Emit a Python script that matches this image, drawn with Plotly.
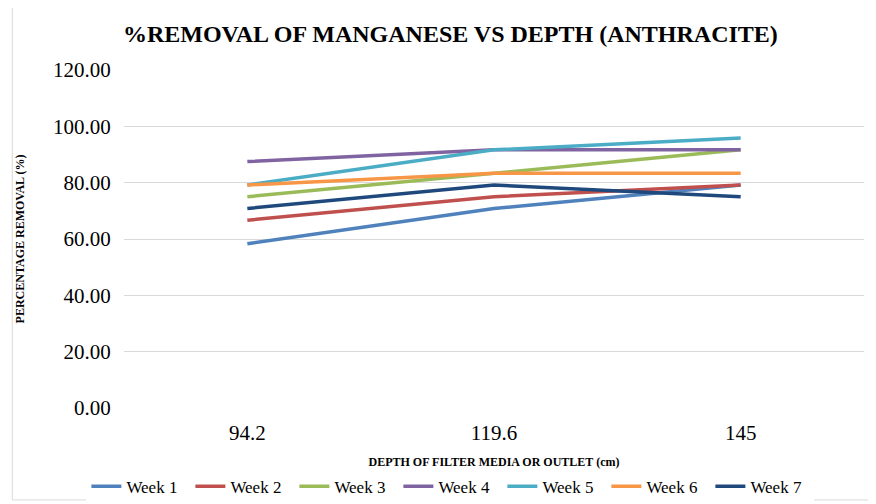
import plotly.graph_objects as go

depths = ["94.2", "119.6", "145"]
week_names = ["Week 1", "Week 2", "Week 3", "Week 4", "Week 5", "Week 6", "Week 7"]
week_1 = [58.33, 70.83, 79.17]
week_2 = [66.67, 75.00, 79.17]
week_3 = [75.00, 83.33, 91.67]
week_4 = [87.50, 91.67, 91.67]
week_5 = [79.17, 91.67, 95.83]
week_6 = [79.17, 83.33, 83.33]
week_7 = [70.83, 79.17, 75.00]
y_ticks = [0, 20, 40, 60, 80, 100, 120]

colors = ["#4F81BD", "#C0504D", "#9BBB59", "#8064A2", "#4BACC6", "#F79646", "#1F497D"]
series = [week_1, week_2, week_3, week_4, week_5, week_6, week_7]

serif = "Liberation Serif, Times New Roman, serif"

fig = go.Figure()
for name, vals, col in zip(week_names, series, colors):
    fig.add_trace(go.Scatter(x=depths, y=vals, mode="lines", name=name,
                             line=dict(color=col, width=3.5)))

fig.update_layout(
    width=876, height=504,
    paper_bgcolor="white", plot_bgcolor="white",
    font=dict(family=serif, color="black"),
    margin=dict(l=113, r=20, t=62, b=104),
    title=dict(text="<b>%REMOVAL OF MANGANESE VS DEPTH (ANTHRACITE)</b>",
               x=0.505, xanchor="center", y=0.95, yanchor="middle",
               font=dict(size=24, family=serif, color="black")),
    showlegend=True,
    legend=dict(orientation="h", xref="container", x=0.505, xanchor="center",
                yref="container", y=0.05, yanchor="middle",
                font=dict(size=17, family=serif), entrywidth=59, entrywidthmode="pixels",
                tracegroupgap=0),
)
fig.update_xaxes(
    type="category", range=[-0.5, 2.5], showgrid=False, showline=False, zeroline=False,
    ticks="outside", ticklen=6, tickcolor="white", automargin=False,
    tickfont=dict(size=21, family=serif),
    title=dict(text="<b>DEPTH OF FILTER MEDIA OR OUTLET (cm)</b>",
               font=dict(size=12, family=serif), standoff=36),
)
fig.update_yaxes(
    range=[0, 120], tickvals=y_ticks, tickformat=".2f",
    showgrid=True, gridcolor="#D9D9D9", gridwidth=1, zeroline=False,
    showline=False, ticks="outside", ticklen=8, tickcolor="white",
    tickfont=dict(size=21, family=serif),
    title=dict(text="<b>PERCENTAGE REMOVAL (%)</b>",
               font=dict(size=12, family=serif), standoff=25),
)
fig.add_shape(type="rect", xref="paper", yref="paper",
              x0=-0.151, x1=1.011, y0=-0.272, y1=1.186,
              line=dict(color="#D9D9D9", width=1), layer="below")

fig.write_html("out.html")
